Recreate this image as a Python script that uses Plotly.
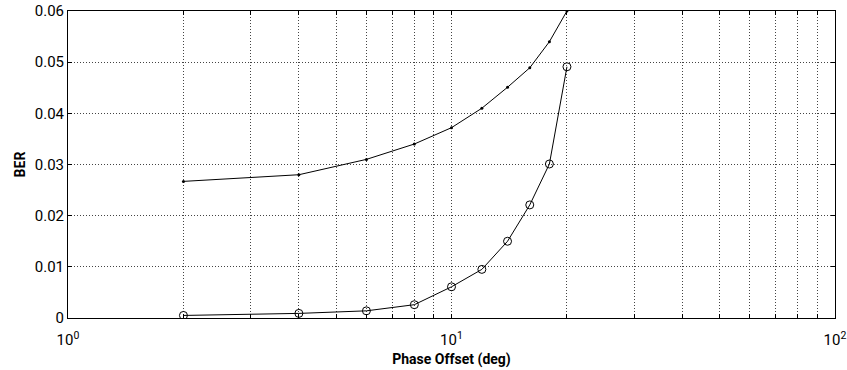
import plotly.graph_objects as go

phase_offset = [2, 4, 6, 8, 10, 12, 14, 16, 18, 20]
ber_upper = [0.0267, 0.0280, 0.0310, 0.0340, 0.0372, 0.0410, 0.0451, 0.0489, 0.0540, 0.0600]
ber_lower = [0.0005, 0.0009, 0.0014, 0.0026, 0.0061, 0.0095, 0.0150, 0.0221, 0.0301, 0.0491]

x_tickvals = [1, 10, 100]
x_ticktext = ["10<sup>0</sup>", "10<sup>1</sup>", "10<sup>2</sup>"]
x_minor_vals = [2, 3, 4, 5, 6, 7, 8, 9, 20, 30, 40, 50, 60, 70, 80, 90]
y_tickvals = [0, 0.01, 0.02, 0.03, 0.04, 0.05, 0.06]
y_ticktext = ["0", "0.01", "0.02", "0.03", "0.04", "0.05", "0.06"]

FONT = "Roboto, Liberation Sans Narrow, sans-serif"

fig = go.Figure()
fig.add_trace(go.Scatter(x=phase_offset, y=ber_upper, mode="lines+markers",
                         line=dict(color="black", width=1),
                         marker=dict(symbol="circle", size=3, color="black"),
                         showlegend=False))
fig.add_trace(go.Scatter(x=phase_offset, y=ber_lower, mode="lines+markers",
                         line=dict(color="black", width=1),
                         marker=dict(symbol="circle-open", size=8, color="black", line=dict(width=1)),
                         showlegend=False))

fig.update_layout(
    width=847, height=370,
    margin=dict(l=68, r=12, t=11, b=52),
    paper_bgcolor="white", plot_bgcolor="white",
    font=dict(family=FONT, size=15, color="black"),
)
fig.update_xaxes(type="log", range=[0, 2], tickvals=x_tickvals, ticktext=x_ticktext,
                 automargin=False, ticklabelstandoff=8,
                 showgrid=True, gridcolor="#444", griddash="1px,2px", gridwidth=1,
                 minor=dict(tickvals=x_minor_vals, showgrid=True, gridcolor="#444",
                            griddash="1px,2px", gridwidth=1, ticks="inside", ticklen=4,
                            tickcolor="black"),
                 showline=True, linecolor="black", linewidth=1, mirror="ticks",
                 ticks="inside", ticklen=4, tickcolor="black",
                 tickfont=dict(size=15), zeroline=False,
                 title=dict(text="<b>Phase Offset (deg)</b>", font=dict(size=14), standoff=6))
fig.update_yaxes(range=[0, 0.06], tickvals=y_tickvals, ticktext=y_ticktext,
                 automargin=False,
                 showgrid=True, gridcolor="#444", griddash="1px,2px", gridwidth=1,
                 showline=True, linecolor="black", linewidth=1, mirror="ticks",
                 ticks="inside", ticklen=4, tickcolor="black",
                 tickfont=dict(size=15), zeroline=False,
                 title=dict(text="<b>BER</b>", font=dict(size=14), standoff=5))

fig.write_html("out.html", config={"displayModeBar": False},
               post_script="document.body.style.margin='0';")
